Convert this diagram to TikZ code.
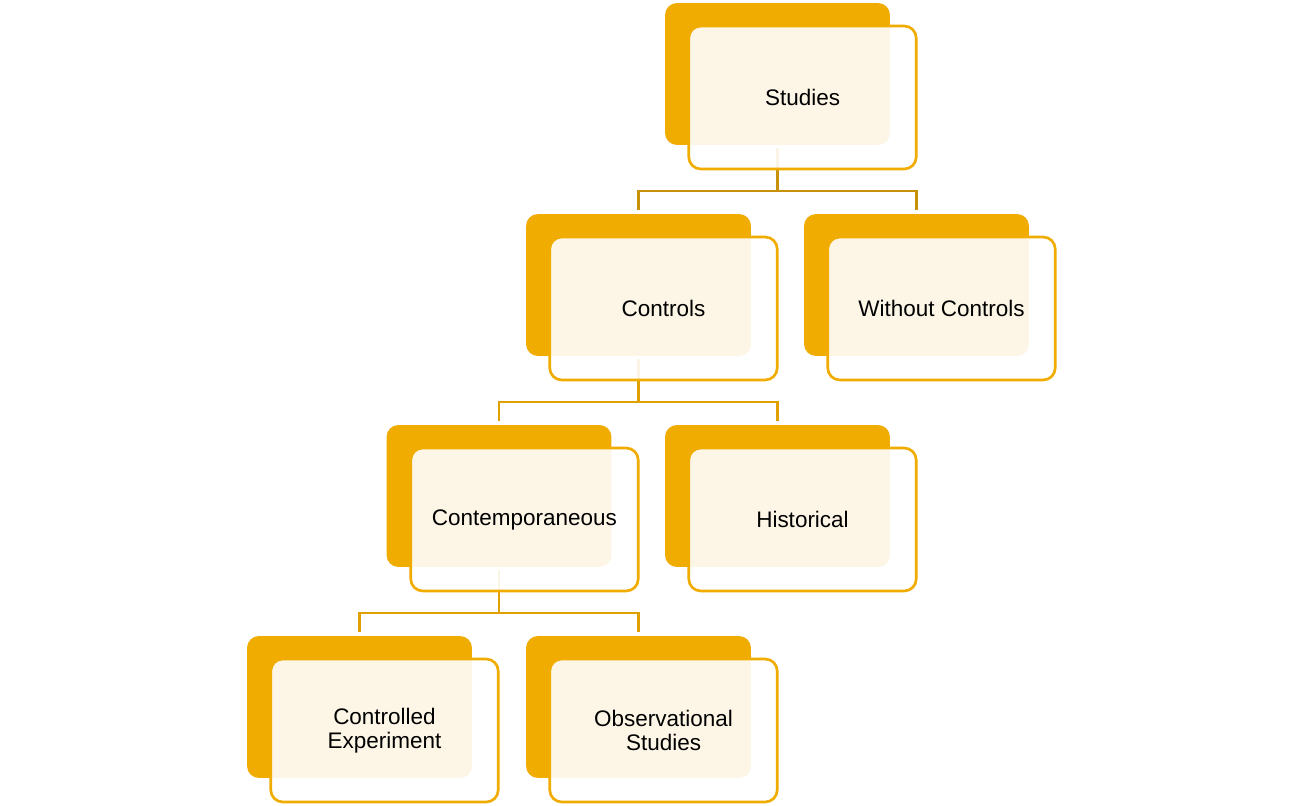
\documentclass[tikz,border=0pt]{standalone}
\usepackage{fontspec}
\setmainfont{Liberation Sans}
\usetikzlibrary{positioning}

\definecolor{boxorange}{RGB}{240,172,0}
\definecolor{linkdark}{RGB}{200,145,10}
\definecolor{linklight}{RGB}{224,160,0}

\tikzset{
  backbox/.style={rounded corners=0.24cm, fill=boxorange, draw=none,
                  minimum width=4.5cm, minimum height=2.84cm, inner sep=0pt},
  frontbox/.style={rounded corners=0.24cm, fill=white, fill opacity=0.9, text opacity=1,
                   draw=boxorange, line width=1.5pt, minimum width=4.55cm, minimum height=2.86cm,
                   inner sep=0pt, align=center, font=\fontsize{12.8}{13.8}\selectfont},
  link/.style={line width=1.4pt, draw=linklight},
}

\begin{document}
\begin{tikzpicture}[x=0.02cm,y=-0.02cm]
  \useasboundingbox (0,0) rectangle (1301,805);

% back boxes
  \node[backbox] (sb) at (777.5,74)  {};
  \node[backbox] (cb) at (638.5,285) {};
  \node[backbox] (wb) at (916.5,285) {};
  \node[backbox] (tb) at (499,496)   {};
  \node[backbox] (hb) at (777.5,496) {};
  \node[backbox] (eb) at (359.5,707) {};
  \node[backbox] (ob) at (638.5,707) {};

% connectors
  \coordinate (bar1) at (0,191);
  \coordinate (bar2) at (0,402);
  \coordinate (bar3) at (0,613);
  \draw[link,draw=linkdark,shorten <=3*0.02cm] (sb.south) -- (sb.south |- bar1);
  \draw[link,draw=linkdark,shorten <=4*0.02cm,shorten >=4*0.02cm] (cb.north) |- (wb.north |- bar1) -- (wb.north);
  \draw[link,shorten <=3*0.02cm] (cb.south) -- (cb.south |- bar2);
  \draw[link,shorten <=4*0.02cm,shorten >=4*0.02cm] (tb.north) |- (hb.north |- bar2) -- (hb.north);
  \draw[link,shorten <=3*0.02cm] (tb.south) -- (tb.south |- bar3);
  \draw[link,shorten <=4*0.02cm,shorten >=4*0.02cm] (eb.north) |- (ob.north |- bar3) -- (ob.north);

% front boxes
  \node[frontbox] (studies) at (802.5,97.5)  {Studies};
  \node[frontbox] (controls) at (663.5,308.5) {Controls};
  \node[frontbox] (without) at (941.5,308.5) {Without Controls};
  \node[frontbox] (contemp) at (524.5,519.5) {Contemporaneous};
  \node[frontbox] (historical) at (802.5,519.5) {Historical};
  \node[frontbox] (experiment) at (384.5,730.5) {Controlled\\Experiment};
  \node[frontbox] (observational) at (663.5,730.5) {Observational\\Studies};

\end{tikzpicture}
\end{document}
